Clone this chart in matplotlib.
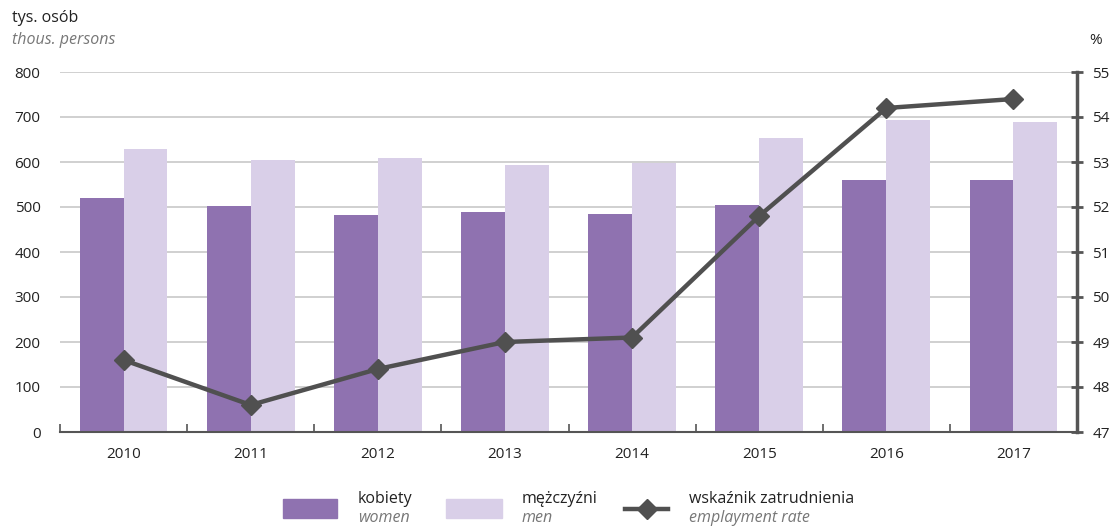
import matplotlib
matplotlib.use("Agg")
import matplotlib.pyplot as plt
from matplotlib.patches import Rectangle
from matplotlib.lines import Line2D
import numpy as np

plt.rcParams['font.family'] = ['Open Sans', 'DejaVu Sans']

years = ['2010', '2011', '2012', '2013', '2014', '2015', '2016', '2017']
women = [520, 502, 482, 489, 484, 504, 560, 560]
men = [629, 604, 609, 593, 598, 653, 693, 689]
rate = [48.6, 47.6, 48.4, 49.0, 49.1, 51.8, 54.2, 54.4]

c_women = '#8f72b0'
c_men = '#d9cfe8'
c_line = '#505050'
c_grid = '#c8c8c8'

fig = plt.figure(figsize=(11.11, 5.27), dpi=100)
ax = fig.add_axes([60 / 1111, 1 - 432 / 527, 1017 / 1111, 360 / 527])

x = np.arange(len(years))
w = 0.345
ax.bar(x - w / 2, women, w, color=c_women, zorder=2)
ax.bar(x + w / 2, men, w, color=c_men, zorder=2)

ax.set_xlim(-0.5, len(years) - 0.5)
ax.set_ylim(0, 800)
ax.set_yticks(range(0, 801, 100))
ax.grid(axis='y', color=c_grid, lw=1.2, zorder=0)
ax.set_axisbelow(True)
ax.set_xticks(x)
ax.set_xticklabels(years)
ax.set_xticks(np.arange(-0.5, len(years)), minor=True)
ax.tick_params(axis='x', which='major', length=0, pad=11, labelsize=11, colors='#222222')
ax.tick_params(axis='x', which='minor', length=6, width=1.2, color='#555555', direction='in')
ax.tick_params(axis='y', length=0, pad=14, labelsize=11, colors='#222222')
for s in ['top', 'right', 'left']:
    ax.spines[s].set_visible(False)
ax.spines['bottom'].set_color('#555555')
ax.spines['bottom'].set_linewidth(1.5)

ax2 = ax.twinx()
ax2.plot(x, rate, color=c_line, lw=3.2, marker='D', ms=10.5, zorder=5)
ax2.set_ylim(47, 55)
ax2.set_yticks(range(47, 56))
for s in ['top', 'left', 'bottom']:
    ax2.spines[s].set_visible(False)
ax2.spines['right'].set_color('#555555')
ax2.spines['right'].set_linewidth(2.5)
ax2.tick_params(axis='y', direction='inout', length=8, width=2, color='#555555',
                pad=7, labelsize=11, labelcolor='#222222')

# axis titles
fig.text(12 / 1111, 1 - 18 / 527, 'tys. osób', fontsize=11.5, color='#222222', va='center')
fig.text(12 / 1111, 1 - 40 / 527, 'thous. persons', fontsize=11.5, style='italic', color='#777777', va='center')
fig.text(1089 / 1111, 1 - 40 / 527, '%', fontsize=11, color='#222222', va='center')

# legend
def fx(px):
    return px / 1111

def fy(py):
    return 1 - py / 527

fig.patches.append(Rectangle((fx(283), fy(518)), 54 / 1111, 19 / 527, transform=fig.transFigure,
                             color=c_women))
fig.patches.append(Rectangle((fx(446), fy(518)), 56 / 1111, 19 / 527, transform=fig.transFigure,
                             color=c_men))
fig.lines.append(Line2D([fx(625), fx(668)], [fy(509), fy(509)], transform=fig.transFigure,
                        color=c_line, lw=3.2, zorder=5))
fig.lines.append(Line2D([fx(646.5)], [fy(509)], transform=fig.transFigure,
                        color=c_line, marker='D', ms=10, lw=0))

for px, top, bottom in [(358, 'kobiety', 'women'),
                        (522, 'mężczyźni', 'men'),
                        (689, 'wskaźnik zatrudnienia', 'emplayment rate')]:
    fig.text(fx(px), fy(499), top, fontsize=11.5, color='#222222', va='center')
    fig.text(fx(px), fy(518), bottom, fontsize=11.5, style='italic', color='#777777', va='center')

fig.savefig('out.png', dpi=100)
